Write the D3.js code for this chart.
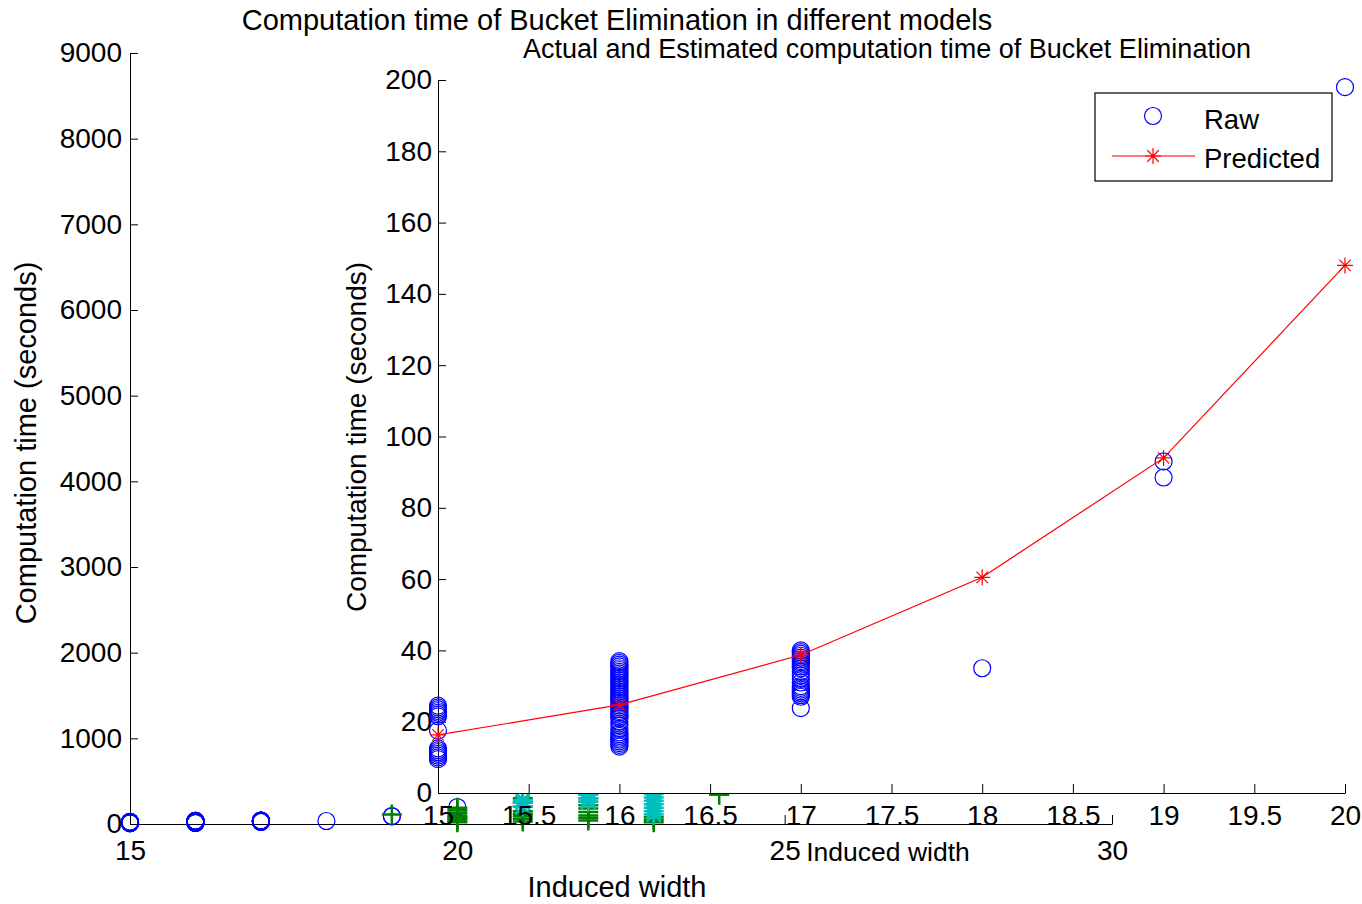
<!DOCTYPE html>
<html>
<head>
<meta charset="utf-8">
<script src="https://cdn.jsdelivr.net/npm/d3@7"></script>
<style>
    body { margin: 0; background: #fff; }
    svg { display: block; font-family: "Liberation Sans", Arial, Helvetica, sans-serif; }
    .axis text { font-size: 28px; fill: #000; }
    .axis path, .axis line { stroke: #000; stroke-width: 1; }
</style>
</head>
<body>
<svg width="1362" height="904"></svg>
<script>
    // ---- data ----
    // Bucket Elimination raw timings (seconds) grouped by induced width
    var rawWidths = [15, 16, 17, 18, 19, 20];
    var rawTimes = [
        [9.5, 10, 10.5, 11, 11.5, 12, 12.5, 17.5, 21.5, 22, 22.5, 23, 23.5, 24, 24.5],
        [13, 13.5, 14, 14.5, 15, 15.5, 16, 16.5, 17, 18, 19, 20, 21, 21.5, 22, 22.5, 23, 23.5, 24, 24.5, 25, 25.5,
            26, 26.5, 27, 27.5, 28, 28.5, 29, 29.5, 30, 30.5, 31, 31.5, 32, 32.5, 33, 33.5, 34, 34.5, 35, 35.5, 36, 36.5, 37],
        [23.8, 27, 27.5, 28, 28.5, 29, 29.5, 30, 31, 32, 33, 34, 35, 35.5, 36, 36.5, 37, 37.5, 38, 38.5, 39, 39.5, 40],
        [35],
        [88.5, 93],
        [198]
    ];
    var predictedWidths = [15, 16, 17, 18, 19, 20];
    var predictedTimes = [16.3, 24.7, 38.7, 60.5, 94, 148];

    // other models in the outer axes (mostly hidden behind the inset)
    var plusWidths = [19, 20, 21, 22, 23, 24];
    var plusTimes = [
        [110],
        [20, 40, 60, 80, 100, 130, 160, 190],
        [30, 60, 90, 120, 150, 200, 250, 300, 400, 500],
        [40, 70, 100, 140, 180, 220, 260, 300, 350, 450],
        [20, 50, 80],
        [340]
    ];
    var starWidths = [21, 22, 23];
    var starTimes = [
        [200, 250, 280],
        [260, 300, 340, 380],
        [110, 150, 190, 230, 270, 310, 350, 400]
    ];

    var outerXTicks = [15, 20, 25, 30];
    var outerYTicks = [0, 1000, 2000, 3000, 4000, 5000, 6000, 7000, 8000, 9000];
    var innerXTicks = [15, 15.5, 16, 16.5, 17, 17.5, 18, 18.5, 19, 19.5, 20];
    var innerYTicks = [0, 20, 40, 60, 80, 100, 120, 140, 160, 180, 200];

    var outerTitle = "Computation time of Bucket Elimination in different models";
    var innerTitle = "Actual and Estimated computation time of Bucket Elimination";
    var xLabel = "Induced width";
    var yLabel = "Computation time (seconds)";

    function flatten(widths, times) {
        var pts = [];
        widths.forEach(function (w, i) {
            times[i].forEach(function (t) { pts.push({ x: w, y: t }); });
        });
        return pts;
    }

    function plusPath(s) {
        return "M" + (-s) + ",0H" + s + "M0," + (-s) + "V" + s;
    }
    function starPath(s) {
        var d = s * 0.72;
        return plusPath(s) + "M" + (-d) + "," + (-d) + "L" + d + "," + d +
            "M" + (-d) + "," + d + "L" + d + "," + (-d);
    }

    var svg = d3.select("svg");

    // ---- outer axes ----
    var ox = d3.scaleLinear().domain([15, 30]).range([130, 1112]),
        oy = d3.scaleLinear().domain([0, 9000]).range([824, 53]);

    var outer = svg.append("g");

    outer.append("g")
        .attr("class", "axis")
        .attr("transform", "translate(0,824)")
        .call(d3.axisBottom(ox).tickValues(outerXTicks).tickSizeInner(-9).tickSizeOuter(0).tickPadding(11))
        .call(function (g) { g.selectAll("text").attr("dy", "0.9em"); });

    outer.append("g")
        .attr("class", "axis")
        .attr("transform", "translate(130,0)")
        .call(d3.axisLeft(oy).tickValues(outerYTicks).tickFormat(d3.format("d"))
            .tickSizeInner(-8).tickSizeOuter(0).tickPadding(8));

    outer.selectAll(".pt-raw")
        .data(flatten(rawWidths, rawTimes))
        .enter()
        .append("circle")
        .attr("class", "pt-raw")
        .attr("cx", function (d) { return ox(d.x); })
        .attr("cy", function (d) { return oy(d.y); })
        .attr("r", 8.5)
        .attr("fill", "none")
        .attr("stroke", "#0000ff")
        .attr("stroke-width", 1.2);

    outer.selectAll(".pt-plus")
        .data(flatten(plusWidths, plusTimes))
        .enter()
        .append("path")
        .attr("class", "pt-plus")
        .attr("transform", function (d) { return "translate(" + ox(d.x) + "," + oy(d.y) + ")"; })
        .attr("d", plusPath(10))
        .attr("stroke", "#008000")
        .attr("stroke-width", 2.5);

    outer.selectAll(".pt-star")
        .data(flatten(starWidths, starTimes))
        .enter()
        .append("path")
        .attr("class", "pt-star")
        .attr("transform", function (d) { return "translate(" + ox(d.x) + "," + oy(d.y) + ")"; })
        .attr("d", starPath(10))
        .attr("stroke", "#00bfbf")
        .attr("stroke-width", 2.5);

    outer.append("text")
        .attr("x", 617).attr("y", 30)
        .attr("text-anchor", "middle")
        .attr("font-size", 29)
        .text(outerTitle);

    outer.append("text")
        .attr("x", 617).attr("y", 897)
        .attr("text-anchor", "middle")
        .attr("font-size", 29)
        .text(xLabel);

    outer.append("text")
        .attr("transform", "translate(36,443) rotate(-90)")
        .attr("text-anchor", "middle")
        .attr("font-size", 29)
        .text(yLabel);

    // ---- inset axes ----
    var ix = d3.scaleLinear().domain([15, 20]).range([438, 1345]),
        iy = d3.scaleLinear().domain([0, 200]).range([793, 80]);

    var inner = svg.append("g");

    inner.append("rect")
        .attr("x", ix.range()[0]).attr("y", iy.range()[1])
        .attr("width", ix.range()[1] - ix.range()[0])
        .attr("height", iy.range()[0] - iy.range()[1])
        .attr("fill", "#fff");

    inner.append("g")
        .attr("class", "axis")
        .attr("transform", "translate(0,793)")
        .call(d3.axisBottom(ix).tickValues(innerXTicks).tickFormat(d3.format("~g"))
            .tickSizeInner(-9).tickSizeOuter(0).tickPadding(7))
        .call(function (g) { g.selectAll("text").attr("dy", "0.9em"); });

    inner.append("g")
        .attr("class", "axis")
        .attr("transform", "translate(438,0)")
        .call(d3.axisLeft(iy).tickValues(innerYTicks).tickSizeInner(-8).tickSizeOuter(0).tickPadding(6));

    inner.append("text")
        .attr("x", 887).attr("y", 58)
        .attr("text-anchor", "middle")
        .attr("font-size", 27)
        .text(innerTitle);

    inner.append("text")
        .attr("x", 888).attr("y", 861)
        .attr("text-anchor", "middle")
        .attr("font-size", 26.5)
        .text(xLabel);

    inner.append("text")
        .attr("transform", "translate(366,437) rotate(-90)")
        .attr("text-anchor", "middle")
        .attr("font-size", 28)
        .text(yLabel);

    inner.selectAll(".in-raw")
        .data(flatten(rawWidths, rawTimes))
        .enter()
        .append("circle")
        .attr("class", "in-raw")
        .attr("cx", function (d) { return ix(d.x); })
        .attr("cy", function (d) { return iy(d.y); })
        .attr("r", 8.5)
        .attr("fill", "none")
        .attr("stroke", "#0000ff")
        .attr("stroke-width", 1.2);

    var predicted = predictedWidths.map(function (w, i) { return { x: w, y: predictedTimes[i] }; });

    inner.append("path")
        .datum(predicted)
        .attr("fill", "none")
        .attr("stroke", "#ff0000")
        .attr("stroke-width", 1.2)
        .attr("d", d3.line()
            .x(function (d) { return ix(d.x); })
            .y(function (d) { return iy(d.y); }));

    inner.selectAll(".in-pred")
        .data(predicted)
        .enter()
        .append("path")
        .attr("class", "in-pred")
        .attr("transform", function (d) { return "translate(" + ix(d.x) + "," + iy(d.y) + ")"; })
        .attr("d", starPath(8))
        .attr("stroke", "#ff0000")
        .attr("stroke-width", 1.2);

    // legend
    var legend = inner.append("g").attr("transform", "translate(1095,93)");
    legend.append("rect")
        .attr("width", 237).attr("height", 88)
        .attr("fill", "#fff")
        .attr("stroke", "#000")
        .attr("stroke-width", 1.2);
    legend.append("circle")
        .attr("cx", 58).attr("cy", 23).attr("r", 8.5)
        .attr("fill", "none").attr("stroke", "#0000ff").attr("stroke-width", 1.2);
    legend.append("text")
        .attr("x", 109).attr("y", 36)
        .attr("font-size", 27.5)
        .text("Raw");
    legend.append("line")
        .attr("x1", 17).attr("x2", 100).attr("y1", 63).attr("y2", 63)
        .attr("stroke", "#ff0000").attr("stroke-width", 1.2);
    legend.append("path")
        .attr("transform", "translate(58,63)")
        .attr("d", starPath(8))
        .attr("stroke", "#ff0000").attr("stroke-width", 1.2);
    legend.append("text")
        .attr("x", 109).attr("y", 75)
        .attr("font-size", 27.5)
        .text("Predicted");
</script>
</body>
</html>
